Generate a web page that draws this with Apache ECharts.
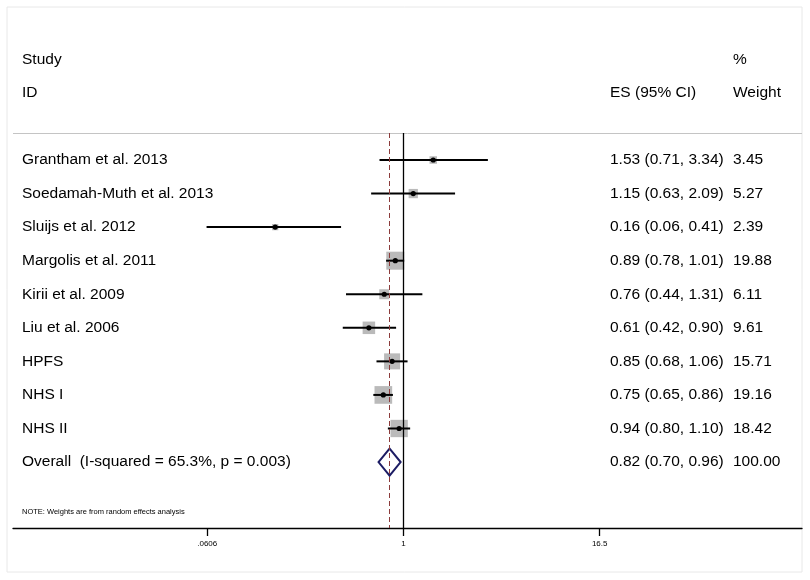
<!DOCTYPE html>
<html>
<head>
<meta charset="utf-8">
<title>Forest plot</title>
<script src="https://cdn.jsdelivr.net/npm/echarts@6.0.0/dist/echarts.min.js"></script>
<style>
  html, body { margin: 0; padding: 0; background: #fff; }
  #chart { width: 810px; height: 580px; }
</style>
</head>
<body>
<div id="chart"></div>
<script>
// studies, top to bottom
var studies = ['Grantham et al. 2013', 'Soedamah-Muth et al. 2013', 'Sluijs et al. 2012',
  'Margolis et al. 2011', 'Kirii et al. 2009', 'Liu et al. 2006', 'HPFS', 'NHS I', 'NHS II'];
var es     = [1.53, 1.15, 0.16, 0.89, 0.76, 0.61, 0.85, 0.75, 0.94];
var lower  = [0.71, 0.63, 0.06, 0.78, 0.44, 0.42, 0.68, 0.65, 0.80];
var upper  = [3.34, 2.09, 0.41, 1.01, 1.31, 0.90, 1.06, 0.86, 1.10];
var weight = [3.45, 5.27, 2.39, 19.88, 6.11, 9.61, 15.71, 19.16, 18.42];

var overallLabel = 'Overall  (I-squared = 65.3%, p = 0.003)';
var overall = { es: 0.82, lower: 0.70, upper: 0.96, weight: 100.00 };

var tickValues = [0.0606, 1, 16.5];
var tickLabels = ['.0606', '1', '16.5'];

var noteText = 'NOTE: Weights are from random effects analysis';

var ln = Math.log;
var chart = echarts.init(document.getElementById('chart'));

var studyData = studies.map(function (s, i) {
  return [ln(es[i]), i, ln(lower[i]), ln(upper[i]), weight[i]];
});
var overallRow = studies.length;
var tickLn = tickValues.map(function (v) { return ln(v); });

function renderStudy(params, api) {
  var y = api.value(1);
  var c = api.coord([api.value(0), y]);
  var lo = api.coord([api.value(2), y]);
  var hi = api.coord([api.value(3), y]);
  var side = 4.04 * Math.sqrt(api.value(4));
  return {
    type: 'group',
    children: [
      { type: 'rect', shape: { x: c[0] - side / 2, y: c[1] - side / 2, width: side, height: side },
        style: { fill: '#bababa' } },
      { type: 'line', shape: { x1: lo[0], y1: lo[1], x2: hi[0], y2: hi[1] },
        style: { stroke: '#000', lineWidth: 2 } },
      { type: 'circle', shape: { cx: c[0], cy: c[1], r: 2.6 }, style: { fill: '#000' } }
    ]
  };
}

function renderDiamond(params, api) {
  var y = api.value(1);
  var c = api.coord([api.value(0), y]);
  var lo = api.coord([api.value(2), y]);
  var hi = api.coord([api.value(3), y]);
  var h = 13.5;
  return {
    type: 'polygon',
    shape: { points: [[lo[0], c[1]], [c[0], c[1] - h], [hi[0], c[1]], [c[0], c[1] + h]] },
    style: { fill: '#fff', stroke: '#1c1c64', lineWidth: 2 }
  };
}

chart.setOption({
  animation: false,
  backgroundColor: '#fff',
  textStyle: { fontFamily: 'Liberation Sans, Arial, sans-serif' },
  grid: { left: 13, right: 8, top: 133, bottom: 52 },
  xAxis: {
    type: 'value',
    min: -5.579,
    max: 5.694,
    axisLine: { show: true, onZero: false, lineStyle: { color: '#000', width: 1.3 } },
    axisTick: { show: true, length: 8, lineStyle: { color: '#000', width: 1.3 }, customValues: tickLn },
    axisLabel: {
      customValues: tickLn,
      margin: 12,
      fontSize: 8,
      color: '#000',
      formatter: function (v) {
        var best = 0;
        for (var i = 1; i < tickLn.length; i++) {
          if (Math.abs(tickLn[i] - v) < Math.abs(tickLn[best] - v)) best = i;
        }
        return tickLabels[best];
      }
    },
    splitLine: { show: false }
  },
  yAxis: {
    type: 'value',
    inverse: true,
    min: -0.8045,
    max: 10.965,
    show: false,
    splitLine: { show: false }
  },
  series: [
    {
      type: 'custom',
      renderItem: renderStudy,
      data: studyData,
      z: 3,
      markLine: {
        silent: true,
        symbol: 'none',
        label: { show: false },
        data: [
          { xAxis: 0, lineStyle: { color: '#000', width: 1.3, type: 'solid' } },
          { xAxis: ln(overall.es), lineStyle: { color: '#8c3c3c', width: 1, type: [5, 3] } }
        ]
      }
    },
    {
      type: 'custom',
      renderItem: renderDiamond,
      data: [[ln(overall.es), overallRow, ln(overall.lower), ln(overall.upper)]],
      z: 4
    }
  ]
});

// text columns, rows placed through the y axis
var font = 15.5;
var colStudy = 22, colES = 610, colW = 733;
var graphics = [
  { type: 'rect', shape: { x: 7, y: 7, width: 795, height: 565 }, style: { fill: 'none', stroke: '#e8e8e8', lineWidth: 1 }, silent: true },
  { type: 'line', shape: { x1: 13, y1: 133.5, x2: 802, y2: 133.5 }, style: { stroke: '#c4c4c4', lineWidth: 1 }, silent: true }
];

function addText(x, y, txt, size) {
  graphics.push({
    type: 'text', x: x, y: y, silent: true,
    style: { text: txt, fill: '#000', font: (size || font) + 'px "Liberation Sans", Arial, sans-serif',
      textAlign: 'left', textVerticalAlign: 'middle', verticalAlign: 'middle' }
  });
}

addText(colStudy, 60, 'Study');
addText(colStudy, 93, 'ID');
addText(colW, 60, '%');
addText(colES, 93, 'ES (95% CI)');
addText(colW, 93, 'Weight');

function ciText(a, b, c) {
  return a.toFixed(2) + ' (' + b.toFixed(2) + ', ' + c.toFixed(2) + ')';
}

studies.forEach(function (s, i) {
  var y = chart.convertToPixel({ yAxisIndex: 0 }, i);
  addText(colStudy, y, s);
  addText(colES, y, ciText(es[i], lower[i], upper[i]));
  addText(colW, y, weight[i].toFixed(2));
});
var yo = chart.convertToPixel({ yAxisIndex: 0 }, overallRow);
addText(colStudy, yo, overallLabel);
addText(colES, yo, ciText(overall.es, overall.lower, overall.upper));
addText(colW, yo, overall.weight.toFixed(2));

addText(colStudy, 512, noteText, 7.5);

chart.setOption({ graphic: graphics });
</script>
</body>
</html>
